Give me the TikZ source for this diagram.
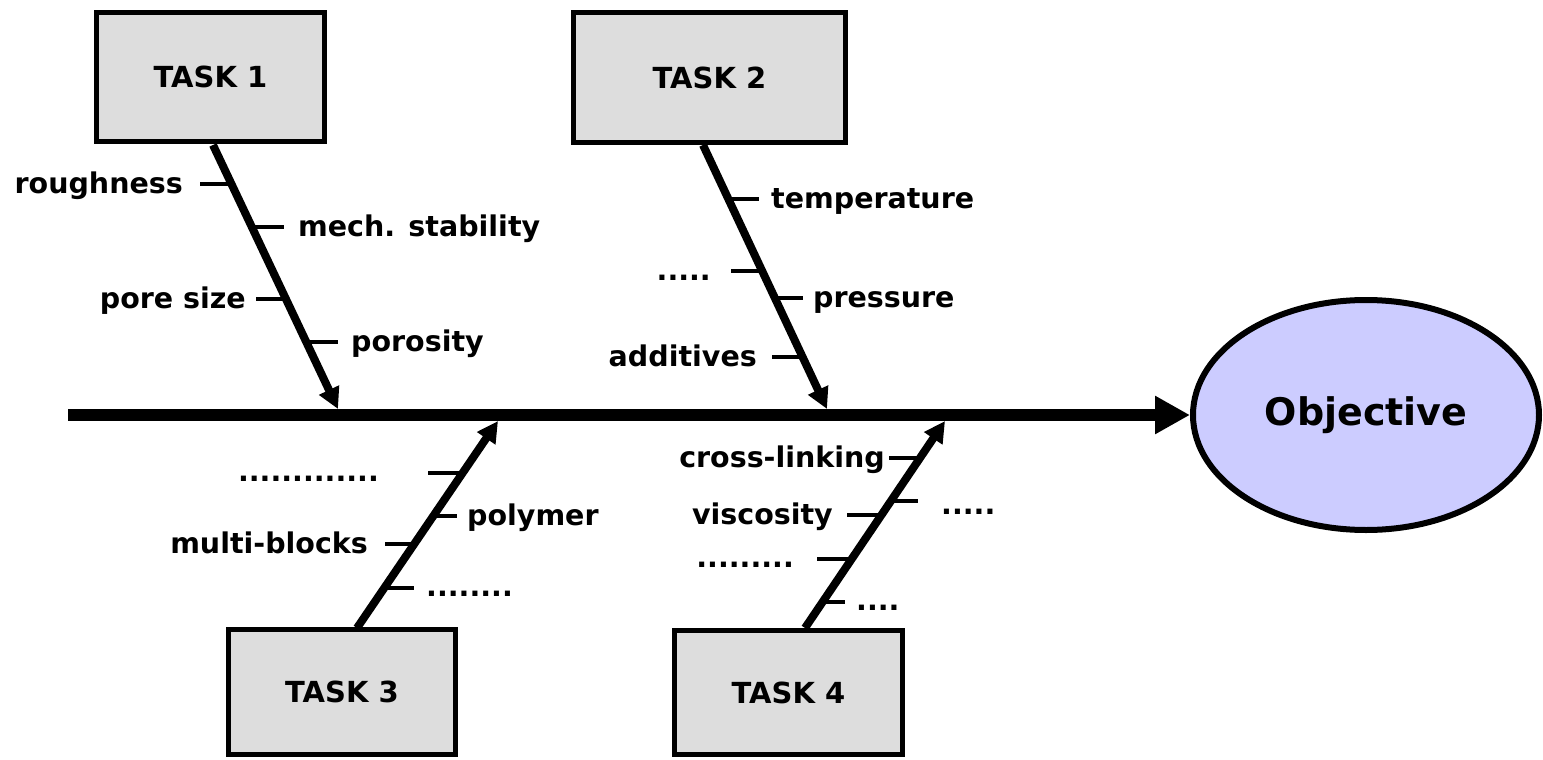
\documentclass[tikz,border=0pt]{standalone}
\usepackage{fontspec}
\setmainfont{DejaVu Sans}
\usetikzlibrary{arrows.meta,shapes.geometric}
\tikzset{
  taskbox/.style={draw=black, line width=5pt, fill=boxgray, rectangle, inner sep=0pt,
    font=\bfseries\fontsize{29}{34}\selectfont},
  goal/.style={draw=black, line width=6pt, fill=goalblue, ellipse, inner sep=0pt,
    minimum width=346pt, minimum height=230pt, font=\bfseries\fontsize{38}{44}\selectfont},
  spine/.style={line width=12pt, -{Triangle[length=35pt,width=36pt]}},
  bone/.style={line width=8pt, -{Triangle[length=21pt,width=21pt]}},
  tickline/.style={line width=4pt},
  lbl/.style={inner sep=0pt, font=\bfseries\fontsize{28.5}{34}\selectfont},
}
\definecolor{boxgray}{HTML}{DDDDDD}
\definecolor{goalblue}{HTML}{CCCCFF}
\begin{document}
\begin{tikzpicture}[x=1pt,y=-1pt]
\useasboundingbox (0,0) rectangle (1543,760);

% task boxes
\node[taskbox, minimum width=228pt, minimum height=129pt] (task1) at (210.5,77) {TASK 1};
\node[taskbox, minimum width=272pt, minimum height=130pt] (task2) at (709.5,77.5) {TASK 2};
\node[taskbox, minimum width=227pt, minimum height=125pt] (task3) at (342,692) {TASK 3};
\node[taskbox, minimum width=228pt, minimum height=124pt] (task4) at (788.5,692.5) {TASK 4};

% objective
\node[goal] (goal) at (1366,415) {Objective};

% spine
\coordinate (tail) at (68,415);
\draw[spine] (tail) -- (goal.west);

% branch coordinates
\coordinate (s1) at (213,145);  \coordinate (e1) at (338,409);
\coordinate (s2) at (703,145);  \coordinate (e2) at (827,409);
\coordinate (s3) at (357,628);  \coordinate (e3) at (498,421);
\coordinate (s4) at (805,628);  \coordinate (e4) at (945,421);

\draw[bone] (s1) -- (e1);
\draw[bone] (s2) -- (e2);
\draw[bone] (s3) -- (e3);
\draw[bone] (s4) -- (e4);

% ---- branch 1 ----
\draw[tickline] (200,184) -- (231,184);
\node[lbl, anchor=base east] (l11) at (183,193) {roughness};
\draw[tickline] (252,227) -- (284,227);
\node[lbl, anchor=base west] (l12) at (298,236) {mech. stability};
\draw[tickline] (256,299) -- (286,299);
\node[lbl, anchor=base east] (l13) at (246,308) {pore size};
\draw[tickline] (306,342) -- (338,342);
\node[lbl, anchor=base west] (l14) at (351,351) {porosity};

% ---- branch 2 ----
\draw[tickline] (728,199) -- (759,199);
\node[lbl, anchor=base west] (l21) at (771,208) {temperature};
\draw[tickline] (731,271) -- (762,271);
\node[lbl, anchor=base east] (l22) at (711,280) {.....};
\draw[tickline] (775,298) -- (803,298);
\node[lbl, anchor=base west] (l23) at (813,307) {pressure};
\draw[tickline] (772,357) -- (802,357);
\node[lbl, anchor=base east] (l24) at (757,366) {additives};

% ---- branch 3 ----
\draw[tickline] (428,473) -- (462,473);
\node[lbl, anchor=base east] (l31) at (379,481) {.............};
\draw[tickline] (433,516) -- (457,516);
\node[lbl, anchor=base west] (l32) at (467,525) {polymer};
\draw[tickline] (385,544) -- (414,544);
\node[lbl, anchor=base east] (l33) at (368,553) {multi-blocks};
\draw[tickline] (384,588) -- (414,588);
\node[lbl, anchor=base west] (l34) at (426,596) {........};

% ---- branch 4 ----
\draw[tickline] (889,458) -- (920,458);
\node[lbl, anchor=base east] (l41) at (885,467) {cross-linking};
\draw[tickline] (891,501) -- (918,501);
\node[lbl, anchor=base west] (l42) at (941,514) {.....};
\draw[tickline] (847,515) -- (881,515);
\node[lbl, anchor=base east] (l43) at (833,524) {viscosity};
\draw[tickline] (817,559) -- (852,559);
\node[lbl, anchor=base east] (l44) at (794,567) {.........};
\draw[tickline] (822,602) -- (845,602);
\node[lbl, anchor=base west] (l45) at (856,610) {....};
\end{tikzpicture}
\end{document}
